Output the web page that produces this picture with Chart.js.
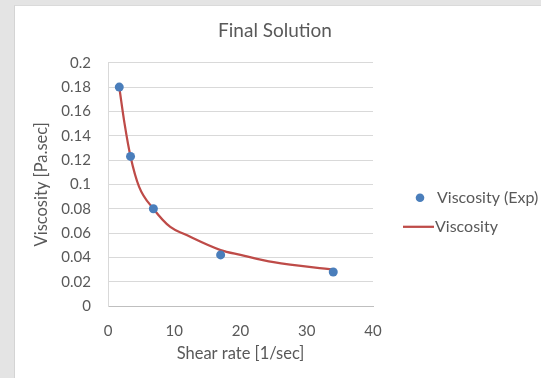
<!DOCTYPE html>
<html>
<head>
<meta charset="utf-8">
<script src="https://cdn.jsdelivr.net/npm/chart.js@4.4.0/dist/chart.umd.min.js"></script>
<style>
  html, body { margin: 0; padding: 0; background: #e4e4e4; }
  body { width: 541px; height: 378px; overflow: hidden; position: relative; }
  #frame {
    position: absolute; left: 14px; top: 5px; width: 527px; height: 373px;
    background: #ffffff; border-left: 1px solid #d4d4d4; border-top: 1px solid #dadada;
    box-sizing: border-box;
  }
  #wrap { position: absolute; left: -1px; top: -1px; width: 527px; height: 373px; }
</style>
</head>
<body>
<div id="frame"><div id="wrap"><canvas id="chart" width="527" height="373"></canvas></div></div>
<script>
// Measured viscosity points
const shearRateExp = [1.7, 3.4, 6.85, 17, 34];
const viscosityExp = [0.180, 0.123, 0.080, 0.042, 0.028];

// Fitted viscosity curve
const shearRateFit = [1.7, 2.5, 3.4, 4.7, 6.85, 9.4, 11.6, 17, 20, 25, 34];
const viscosityFit = [0.180, 0.150, 0.123, 0.098, 0.080, 0.065, 0.059, 0.046, 0.042, 0.036, 0.030];

const seriesLabels = ['Viscosity (Exp)', 'Viscosity'];

const FONT = 'Lato, "Open Sans", sans-serif';
const TEXT = '#595959';

const toXY = (xs, ys) => xs.map((x, i) => ({ x: x, y: ys[i] }));

// Legend drawn at the right of the plot area, Excel style
const sideLegend = {
  id: 'sideLegend',
  afterDraw(chart) {
    const ctx = chart.ctx;
    const area = chart.chartArea;
    const ds = chart.data.datasets;
    const symX = area.right + 30;
    ctx.save();
    ctx.font = '16px ' + FONT;
    ctx.textBaseline = 'middle';
    // scatter entry
    let y = area.top + 135;
    ctx.beginPath();
    ctx.arc(symX + 17, y, 4.3, 0, Math.PI * 2);
    ctx.fillStyle = ds[0].backgroundColor;
    ctx.fill();
    ctx.fillStyle = TEXT;
    ctx.fillText(ds[0].label, symX + 34, y);
    // line entry
    y = area.top + 164;
    ctx.beginPath();
    ctx.moveTo(symX, y);
    ctx.lineTo(symX + 31, y);
    ctx.strokeStyle = ds[1].borderColor;
    ctx.lineWidth = ds[1].borderWidth;
    ctx.stroke();
    ctx.fillText(ds[1].label, symX + 32, y);
    ctx.restore();
  }
};

new Chart(document.getElementById('chart'), {
  type: 'scatter',
  data: {
    datasets: [
      {
        label: seriesLabels[0],
        data: toXY(shearRateExp, viscosityExp),
        backgroundColor: '#4a7ebb',
        borderColor: '#4a7ebb',
        pointRadius: 4.5,
        pointHoverRadius: 4.5,
        borderWidth: 0,
        showLine: false
      },
      {
        label: seriesLabels[1],
        data: toXY(shearRateFit, viscosityFit),
        borderColor: '#be4b48',
        backgroundColor: '#be4b48',
        borderWidth: 2.25,
        pointRadius: 0,
        showLine: true,
        cubicInterpolationMode: 'monotone'
      }
    ]
  },
  options: {
    responsive: false,
    animation: false,
    events: [],
    layout: { padding: { left: 14, right: 19, top: 0, bottom: 10 } },
    plugins: {
      legend: { display: false },
      tooltip: { enabled: false },
      title: {
        display: true,
        text: 'Final Solution',
        color: TEXT,
        font: { family: FONT, size: 19, weight: 'normal' },
        padding: { top: 14, bottom: 21 }
      }
    },
    scales: {
      x: {
        type: 'linear',
        min: 0, max: 40,
        ticks: { stepSize: 10, color: TEXT, font: { family: FONT, size: 15 }, padding: 16 },
        grid: { display: false, drawTicks: false },
        border: { display: true, color: '#bfbfbf', width: 1 },
        title: {
          display: true, text: 'Shear rate [1/sec]', color: TEXT,
          font: { family: FONT, size: 16.5 }, padding: { top: 4, bottom: 4 }
        },
        afterFit(s) { s.height = 62; }
      },
      y: {
        type: 'linear',
        min: 0, max: 0.2,
        ticks: { stepSize: 0.02, color: TEXT, font: { family: FONT, size: 15 }, padding: 17,
          callback: v => String(Math.round(v * 100) / 100) },
        grid: { color: '#d9d9d9', lineWidth: 1, drawTicks: false },
        border: { display: true, color: '#d9d9d9', width: 1 },
        title: {
          display: true, text: 'Viscosity [Pa.sec]', color: TEXT,
          font: { family: FONT, size: 16.5 }, padding: { top: 4, bottom: 4 }
        },
        afterFit(s) { s.width = 80; }
      },
      // empty right-hand band that holds the legend
      legendSpace: {
        type: 'linear',
        position: 'right',
        display: true,
        ticks: { display: false },
        grid: { display: false, drawTicks: false },
        border: { display: false },
        afterFit(s) { s.width = 149; }
      }
    }
  },
  plugins: [sideLegend]
});
</script>
</body>
</html>
